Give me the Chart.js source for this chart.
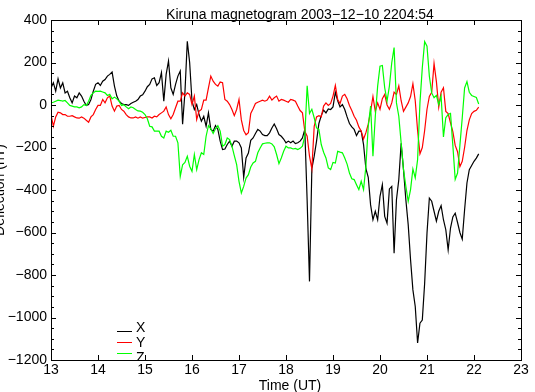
<!DOCTYPE html>
<html><head><meta charset="utf-8">
<script src="https://cdn.jsdelivr.net/npm/chart.js@4/dist/chart.umd.min.js"></script>
<style>html,body{margin:0;padding:0;background:#fff;}canvas{display:block;}</style>
</head><body>
<canvas id="c" width="535" height="392"></canvas>
<script>
const chartTitle = 'Kiruna magnetogram 2003\u221212\u221210 2204:54';
const xAxisTitle = 'Time (UT)';
const yAxisTitle = 'Deflection (nT)';
const seriesNames = ['X', 'Y', 'Z'];
const seriesColors = ['#000000', '#ff0000', '#00ff00'];

const times = [
13.00,13.05,13.10,13.15,13.20,13.25,13.30,13.35,13.40,13.45,
13.50,13.55,13.60,13.65,13.70,13.75,13.80,13.85,13.90,13.95,
14.00,14.05,14.10,14.15,14.20,14.25,14.30,14.35,14.40,14.45,
14.50,14.55,14.60,14.65,14.70,14.75,14.80,14.85,14.90,14.95,
15.00,15.05,15.10,15.15,15.20,15.25,15.30,15.35,15.40,15.45,
15.50,15.55,15.60,15.65,15.70,15.75,15.80,15.85,15.90,15.95,
16.00,16.05,16.10,16.15,16.20,16.25,16.30,16.35,16.40,16.45,
16.50,16.55,16.60,16.65,16.70,16.75,16.80,16.85,16.90,16.95,
17.00,17.05,17.10,17.15,17.20,17.25,17.30,17.35,17.40,17.45,
17.50,17.55,17.60,17.65,17.70,17.75,17.80,17.85,17.90,17.95,
18.00,18.05,18.10,18.15,18.20,18.25,18.30,18.35,18.40,18.45,
18.50,18.55,18.60,18.65,18.70,18.75,18.80,18.85,18.90,18.95,
19.00,19.05,19.10,19.15,19.20,19.25,19.30,19.35,19.40,19.45,
19.50,19.55,19.60,19.65,19.70,19.75,19.80,19.85,19.90,19.95,
20.00,20.05,20.10,20.15,20.20,20.25,20.30,20.35,20.40,20.45,
20.50,20.55,20.60,20.65,20.70,20.75,20.80,20.85,20.90,20.95,
21.00,21.05,21.10,21.15,21.20,21.25,21.30,21.35,21.40,21.45,
21.50,21.55,21.60,21.65,21.70,21.75,21.80,21.85,21.90,21.95,
22.00,22.05,22.10];

const seriesX = [
80,105,65,123,80,104,57,65,34,10,
42,34,57,42,18,-2,2,26,65,97,
105,92,112,120,136,144,155,89,42,18,
7,2,2,-2,7,13,18,26,42,48,
65,86,97,123,128,92,105,152,18,144,
207,81,50,97,136,160,-90,60,300,200,
18,-21,2,-45,-76,-53,-100,-37,-115,-123,
-97,-115,-170,-210,-207,-186,-170,-194,-170,-170,
-178,-202,-340,-249,-226,-166,-155,-134,-115,-123,
-139,-144,-144,-131,-108,-89,-112,-139,-147,-160,
-178,-170,-178,-170,-182,-178,-170,-155,-115,-450,
-830,-300,-241,-170,-87,-50,-24,-37,-18,-21,
-9,60,20,-9,2,-21,-56,-87,-103,-115,
-144,-123,-123,-186,-300,-340,-470,-540,-500,-540,
-430,-375,-524,-556,-395,-383,-698,-446,-351,-180,
-304,-446,-563,-728,-870,-948,-1120,-1027,-1012,-839,
-603,-438,-453,-500,-547,-500,-474,-540,-587,-682,
-579,-527,-509,-553,-600,-631,-493,-367,-304,-285,
-265,-250,-230];

const seriesY = [
-45,-100,-56,-34,-37,-45,-45,-53,-53,-50,
-56,-61,-62,-56,-62,-72,-81,-56,-45,-21,
-2,-2,26,10,34,42,-5,-29,-5,-2,
-21,-29,-45,-56,-61,-61,-56,-62,-56,-62,
-59,-56,-56,-61,-53,-56,-45,-37,-29,-9,
-45,-65,-45,-13,18,18,57,42,57,50,
2,42,-68,-29,-21,23,23,81,136,112,
97,89,108,105,26,18,2,-21,-50,-21,
26,-70,-120,-140,-130,-40,-18,7,13,18,
23,18,23,42,23,34,42,18,26,23,
18,13,26,23,18,-5,-26,-37,-123,-147,
-241,-300,-100,-56,-50,-56,-5,10,-2,7,
42,92,26,7,42,50,29,-2,-26,-53,
-72,-103,-123,-160,-130,-90,-30,40,-30,10,
-20,30,50,0,-20,10,60,50,90,20,
-30,-10,10,40,100,20,-120,-230,-200,-120,
-20,40,60,195,110,-10,60,81,-30,-40,
-84,-125,-190,-220,-290,-265,-200,-120,-70,-40,
-30,-25,-10];

const seriesZ = [
10,13,18,23,21,18,21,10,-2,-5,
-9,-9,-13,-9,2,-2,18,45,57,65,
64,65,61,57,45,50,29,37,29,18,
-2,1,-9,-18,-9,-13,-21,-28,-29,-34,
-45,-65,-100,-103,-123,-123,-123,-147,-155,-123,
-128,-119,-147,-147,-178,-336,-281,-270,-241,-288,
-312,-233,-304,-257,-225,-233,-147,-97,-112,-134,
-112,-97,-123,-194,-186,-155,-163,-194,-238,-281,
-359,-414,-383,-344,-328,-292,-273,-265,-225,-202,
-183,-180,-178,-178,-183,-197,-233,-276,-249,-218,
-194,-202,-202,-207,-204,-210,-204,-194,-147,90,
-40,-20,-60,-108,-115,-186,-222,-249,-296,-304,
-270,-273,-218,-222,-225,-249,-278,-320,-347,-351,
-375,-398,-359,-398,-288,-100,-5,-241,-53,89,
183,186,81,18,89,199,270,10,-53,-178,
-304,-383,-453,-398,-301,-343,-257,10,175,298,
277,136,57,34,45,2,42,-150,-60,-45,
-40,-190,-350,-320,-190,-60,80,110,60,45,
40,35,5];

const xMin = 13, xMax = 23, xStep = 1;
const yMin = -1200, yMax = 400, yStep = 200, yMinorStep = 50;

const FONT = '"Liberation Sans", Arial, Helvetica, sans-serif';
const allSeries = [seriesX, seriesY, seriesZ];

const decor = {
  id: 'decor',
  afterDraw(chart) {
    const ctx = chart.ctx, a = chart.chartArea, xs = chart.scales.x, ys = chart.scales.y;
    ctx.save();
    ctx.strokeStyle = '#000';
    ctx.lineWidth = 1;
    ctx.strokeRect(a.left + 0.5, a.top + 0.5, a.right - a.left, a.bottom - a.top);
    ctx.beginPath();
    for (let t = xMin; t <= xMax; t += xStep) {
      const px = Math.round(xs.getPixelForValue(t)) + 0.5;
      ctx.moveTo(px, a.bottom); ctx.lineTo(px, a.bottom - 5);
      ctx.moveTo(px, a.top); ctx.lineTo(px, a.top + 5);
    }
    for (let v = yMin; v <= yMax; v += yMinorStep) {
      const py = Math.round(ys.getPixelForValue(v)) + 0.5;
      const len = (v % yStep === 0) ? 5 : 3;
      ctx.moveTo(a.left, py); ctx.lineTo(a.left + len, py);
      ctx.moveTo(a.right, py); ctx.lineTo(a.right - len, py);
    }
    ctx.stroke();

    ctx.fillStyle = '#000';
    ctx.font = '14px ' + FONT;
    ctx.textAlign = 'center';
    ctx.textBaseline = 'alphabetic';
    ctx.fillText(chartTitle, 300, 19);
    ctx.fillText(xAxisTitle, 290, 390);
    ctx.save();
    ctx.translate(4, (a.top + a.bottom) / 2);
    ctx.rotate(-Math.PI / 2);
    ctx.fillText(yAxisTitle, 0, 0);
    ctx.restore();

    // legend
    ctx.save();
    ctx.beginPath();
    ctx.rect(a.left, a.top, a.right - a.left, a.bottom - a.top);
    ctx.clip();
    ctx.textAlign = 'left';
    const lineY = [331.5, 342.5, 353.5];
    const textY = [332, 347, 362];
    for (let i = 0; i < seriesNames.length; i++) {
      ctx.strokeStyle = seriesColors[i];
      ctx.beginPath();
      ctx.moveTo(117, lineY[i]); ctx.lineTo(132, lineY[i]);
      ctx.stroke();
      ctx.fillStyle = '#000';
      ctx.fillText(seriesNames[i], 136, textY[i]);
    }
    ctx.restore();
    ctx.restore();
  }
};

const datasets = allSeries.map((s, i) => ({
  label: seriesNames[i],
  data: times.map((t, k) => ({ x: t, y: s[k] })),
  borderColor: seriesColors[i],
  borderWidth: 1.2,
  pointRadius: 0,
  tension: 0,
  fill: false,
  order: 2 - i
}));

new Chart(document.getElementById('c'), {
  type: 'line',
  data: { datasets },
  options: {
    responsive: false,
    animation: false,
    devicePixelRatio: 1,
    layout: { padding: { left: 0, right: 14, top: 20, bottom: 0 } },
    plugins: { legend: { display: false }, title: { display: false }, tooltip: { enabled: false } },
    scales: {
      x: {
        type: 'linear', min: xMin, max: xMax,
        grid: { display: false, drawTicks: false }, border: { display: false },
        ticks: { stepSize: xStep, autoSkip: false, maxRotation: 0, padding: 2, color: '#000',
                 font: { size: 14, family: FONT } },
        afterFit(s) { s.height = 32; }
      },
      y: {
        type: 'linear', min: yMin, max: yMax,
        grid: { display: false, drawTicks: false }, border: { display: false },
        ticks: { stepSize: yStep, padding: 4, color: '#000', font: { size: 14, family: FONT },
                 callback: v => String(v).replace('-', '\u2212') },
        afterFit(s) { s.width = 51; }
      }
    }
  },
  plugins: [decor]
});
</script>
</body></html>
